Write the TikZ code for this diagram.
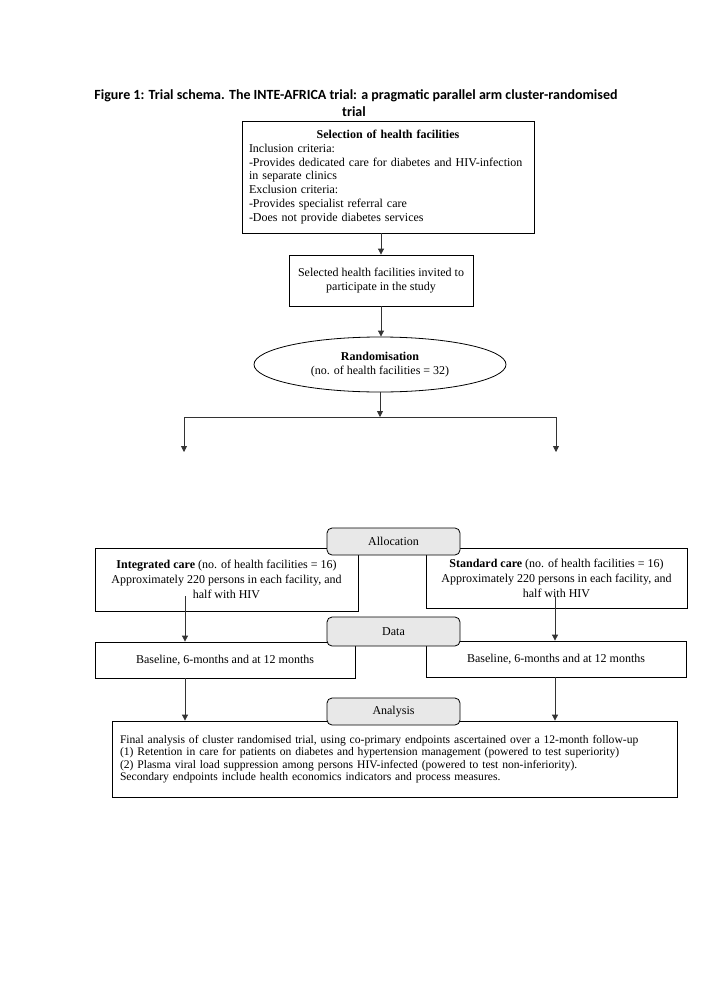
\documentclass[tikz,border=0pt]{standalone}
\usepackage{fontspec}
\setmainfont{Liberation Serif}
\newfontfamily\titlefont{Carlito}
\usetikzlibrary{arrows.meta,shapes.geometric}
\begin{document}
\begin{tikzpicture}[x=1pt,y=-1pt,
  box/.style={draw=black, line width=0.8pt, rectangle, inner sep=0pt, align=center, font=\fontsize{12}{13.8}\selectfont},
  armbox/.style={box, font=\fontsize{12}{15}\selectfont},
  tag/.style={draw=black, line width=0.8pt, rounded corners=5pt, fill=gray!18, minimum width=133pt, inner sep=0pt, font=\fontsize{12}{14}\selectfont},
  arr/.style={-{Triangle[length=6pt,width=6pt]}, line width=0.8pt, draw=black!80},
  ln/.style={line width=0.8pt, draw=black!80},
  ttl/.style={font=\titlefont\bfseries\fontsize{14}{16}\selectfont, inner sep=0pt}]
\useasboundingbox (0,0) rectangle (708,1001);
\fill[white] (0,0) rectangle (708,1001);

\node[ttl] (t1) at (356,96) {Figure 1: Trial schema. The INTE-AFRICA trial: a pragmatic parallel arm cluster-randomised};
\node[ttl] (t2) at (354,112) {trial};

\node[box, minimum width=292pt, minimum height=112pt, text width=278pt, align=left] (b1) at (388,177)
  {\hfill\textbf{Selection of health facilities}\hfill\null\\Inclusion criteria:\\-Provides dedicated care for diabetes and HIV-infection\\in separate clinics\\Exclusion criteria:\\-Provides specialist referral care\\-Does not provide diabetes services};

\node[box, minimum width=184pt, minimum height=51pt] (b2) at (381,280.5)
  {Selected health facilities invited to\\participate in the study};

\node[box, ellipse, minimum width=252pt, minimum height=55pt] (rnd) at (380,364.5)
  {\textbf{Randomisation}\\(no. of health facilities = 32)};

\coordinate (split) at (380,417);
\coordinate (L) at (184,417);
\coordinate (R) at (556,417);
\coordinate (Ld) at (184,452);
\coordinate (Rd) at (556,452);

\draw[arr] (b1.south -| b2.north) -- (b2.north);
\draw[arr] (b2.south) -- (b2.south |- rnd.north);
\draw[arr] (rnd.south) -- (split);
\draw[ln] (L) -- (R);
\draw[arr] (L) -- (Ld);
\draw[arr] (R) -- (Rd);

\node[armbox, minimum width=263pt, minimum height=63pt] (ic) at (226.5,579.5)
  {\textbf{Integrated care} (no. of health facilities = 16)\\Approximately 220 persons in each facility, and\\half with HIV};
\node[armbox, minimum width=261pt, minimum height=60pt] (sc) at (556.5,578)
  {\textbf{Standard care} (no. of health facilities = 16)\\Approximately 220 persons in each facility, and\\half with HIV};

\node[box, minimum width=260pt, minimum height=36pt] (bl) at (225,660) {Baseline, 6-months and at 12 months};
\node[box, minimum width=260pt, minimum height=36pt] (br) at (556,659) {Baseline, 6-months and at 12 months};

\node[box, minimum width=565pt, minimum height=76pt, text width=549pt, align=left, font=\fontsize{11.6}{12.5}\selectfont] (fin) at (394.5,759)
  {Final analysis of cluster randomised trial, using co-primary endpoints ascertained over a 12-month follow-up\\(1) Retention in care for patients on diabetes and hypertension management (powered to test superiority)\\(2) Plasma viral load suppression among persons HIV-infected (powered to test non-inferiority).\\Secondary endpoints include health economics indicators and process measures.};

\coordinate (ia) at (185,596);
\coordinate (sa) at (555,597);
\draw[arr] (ia) -- (ia |- bl.north);
\draw[arr] (sa) -- (sa |- br.north);
\draw[arr] (bl.south -| ia) -- (fin.north -| ia);
\draw[arr] (br.south -| sa) -- (fin.north -| sa);

\node[tag, minimum height=27pt] (alloc) at (393.5,541.5) {Allocation};
\node[tag, minimum height=29pt] (data) at (393.5,631.5) {Data};
\node[tag, minimum height=27pt] (anal) at (393.5,711.5) {Analysis};
\end{tikzpicture}
\end{document}
